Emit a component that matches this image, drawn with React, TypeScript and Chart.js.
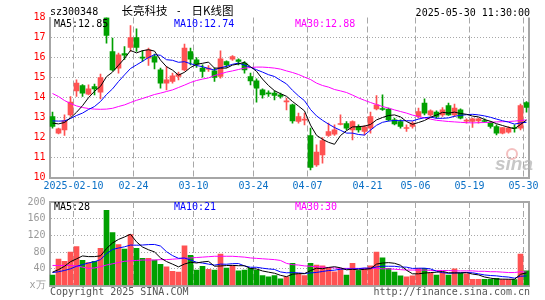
import React, { useEffect, useRef } from 'react';
import { Chart, registerables } from 'chart.js';

Chart.register(...registerables);

const dates = [
  '01-27', '02-05', '02-06', '02-07',
  '02-10', '02-11', '02-12', '02-13', '02-14',
  '02-17', '02-18', '02-19', '02-20', '02-21',
  '02-24', '02-25', '02-26', '02-27', '02-28',
  '03-03', '03-04', '03-05', '03-06', '03-07',
  '03-10', '03-11', '03-12', '03-13', '03-14',
  '03-17', '03-18', '03-19', '03-20', '03-21',
  '03-24', '03-25', '03-26', '03-27', '03-28',
  '03-31', '04-01', '04-02', '04-03',
  '04-07', '04-08', '04-09', '04-10', '04-11',
  '04-14', '04-15', '04-16', '04-17', '04-18',
  '04-21', '04-22', '04-23', '04-24', '04-25',
  '04-28', '04-29', '04-30',
  '05-06', '05-07', '05-08', '05-09',
  '05-12', '05-13', '05-14', '05-15', '05-16',
  '05-19', '05-20', '05-21', '05-22', '05-23',
  '05-26', '05-27', '05-28', '05-29', '05-30',
];

const opens = [13.05, 12.22, 12.38, 13.13, 14.33, 14.60, 14.17, 14.55, 14.27, 18.00,
  16.30, 15.47, 16.20, 16.50, 17.00, 16.00, 15.97, 16.05, 15.38, 14.72,
  14.80, 15.05, 15.38, 16.30, 15.88, 15.47, 15.42, 15.33, 15.05, 15.80,
  15.92, 15.88, 15.72, 15.05, 14.83, 14.38, 14.22, 14.22, 14.13, 13.78,
  13.63, 12.80, 12.87, 12.10, 10.63, 11.13, 12.10, 12.17, 12.65, 12.70,
  12.38, 12.53, 12.30, 12.47, 13.43, 13.43, 13.42, 12.88, 12.80, 12.45,
  12.55, 13.05, 13.72, 13.13, 13.27, 13.13, 13.60, 13.13, 13.38, 12.82,
  12.80, 12.83, 12.85, 12.75, 12.55, 12.22, 12.27, 12.50, 12.47, 13.75];
const highs = [13.27, 12.47, 13.13, 14.05, 14.88, 14.65, 14.63, 14.67, 15.17, 18.00,
  16.97, 16.22, 16.55, 17.60, 17.43, 16.35, 16.47, 16.17, 15.47, 15.55,
  15.22, 15.27, 16.67, 16.47, 16.00, 15.63, 15.60, 15.47, 16.33, 15.83,
  16.10, 15.93, 15.80, 15.22, 14.93, 14.43, 14.33, 14.33, 14.22, 13.97,
  13.67, 13.22, 13.22, 12.47, 11.63, 12.00, 12.72, 12.63, 13.13, 12.80,
  12.83, 12.63, 12.60, 13.27, 14.10, 14.13, 13.47, 12.97, 12.88, 12.63,
  12.80, 13.47, 13.93, 13.38, 13.33, 13.50, 13.72, 13.67, 13.43, 12.93,
  12.97, 12.97, 12.93, 12.80, 12.63, 12.50, 12.55, 12.63, 13.67, 13.80];
const lows = [12.47, 12.18, 12.10, 13.05, 14.05, 14.05, 14.13, 14.13, 13.93, 16.72,
  15.33, 15.22, 15.90, 16.30, 16.30, 15.80, 15.60, 15.43, 14.47, 14.38,
  14.72, 14.88, 15.33, 15.63, 15.50, 15.02, 15.30, 14.80, 14.97, 15.50,
  15.85, 15.63, 15.22, 14.63, 13.77, 13.97, 14.05, 13.88, 13.97, 13.38,
  12.72, 12.72, 12.63, 10.38, 10.55, 10.72, 12.05, 12.10, 12.63, 12.38,
  11.88, 12.27, 12.13, 12.22, 13.38, 13.35, 12.83, 12.63, 12.47, 12.30,
  12.47, 12.97, 13.13, 13.08, 12.97, 13.05, 13.10, 13.05, 12.93, 12.72,
  12.50, 12.72, 12.77, 12.47, 12.13, 12.18, 12.22, 12.27, 12.38, 13.27];
const closes = [12.55, 12.43, 12.83, 13.77, 14.72, 14.22, 14.43, 14.43, 15.00, 17.10,
  15.38, 16.13, 16.12, 17.00, 16.50, 15.97, 16.38, 15.77, 14.72, 14.88,
  15.08, 15.17, 16.47, 15.92, 15.67, 15.30, 15.47, 15.00, 15.93, 15.63,
  16.05, 15.80, 15.38, 14.83, 14.47, 14.13, 14.18, 14.10, 14.05, 13.82,
  12.83, 13.05, 12.90, 10.50, 11.27, 11.85, 12.30, 12.38, 12.68, 12.47,
  12.80, 12.38, 12.53, 13.05, 13.63, 13.40, 12.88, 12.68, 12.55, 12.48,
  12.72, 13.30, 13.22, 13.33, 13.05, 13.38, 13.13, 13.47, 12.97, 12.85,
  12.93, 12.93, 12.80, 12.55, 12.22, 12.50, 12.47, 12.45, 13.60, 13.50];

const ma5 = [12.72, 12.68, 12.75, 12.98, 13.26, 13.59, 13.99, 14.31, 14.56, 15.04,
  15.27, 15.61, 15.95, 16.35, 16.23, 16.34, 16.39, 16.32, 15.87, 15.54,
  15.37, 15.12, 15.26, 15.50, 15.66, 15.71, 15.77, 15.47, 15.47, 15.47,
  15.62, 15.68, 15.76, 15.54, 15.31, 14.92, 14.60, 14.34, 14.19, 14.06,
  13.80, 13.57, 13.33, 12.62, 12.11, 11.91, 11.76, 11.66, 12.10, 12.34,
  12.53, 12.54, 12.57, 12.65, 12.88, 13.00, 13.10, 13.13, 13.03, 12.80,
  12.66, 12.75, 12.85, 13.01, 13.12, 13.26, 13.22, 13.27, 13.20, 13.16,
  13.07, 13.03, 12.90, 12.81, 12.69, 12.60, 12.51, 12.44, 12.65, 12.87];
const ma10 = [12.83, 12.82, 12.83, 12.95, 13.10, 13.22, 13.40, 13.55, 13.80, 14.15,
  14.43, 14.80, 15.13, 15.45, 15.63, 15.81, 16.00, 16.14, 16.11, 15.89,
  15.86, 15.76, 15.79, 15.69, 15.60, 15.54, 15.45, 15.37, 15.49, 15.56,
  15.66, 15.72, 15.62, 15.51, 15.39, 15.27, 15.14, 15.05, 14.86, 14.68,
  14.36, 14.08, 13.84, 13.40, 13.08, 12.86, 12.67, 12.50, 12.36, 12.22,
  12.22, 12.15, 12.12, 12.37, 12.61, 12.76, 12.82, 12.85, 12.84, 12.84,
  12.83, 12.92, 12.99, 13.02, 12.96, 12.96, 12.98, 13.06, 13.11, 13.14,
  13.16, 13.13, 13.08, 13.01, 12.92, 12.84, 12.77, 12.67, 12.73, 12.76];
const ma30 = [14.20, 14.05, 13.85, 13.70, 13.58, 13.50, 13.45, 13.42, 13.41, 13.42,
  13.46, 13.55, 13.63, 13.75, 13.86, 13.95, 14.05, 14.15, 14.22, 14.30,
  14.38, 14.50, 14.62, 14.75, 14.85, 14.92, 14.98, 15.10, 15.18, 15.27,
  15.33, 15.40, 15.47, 15.50, 15.52, 15.52, 15.50, 15.47, 15.42, 15.33,
  15.25, 15.15, 15.02, 14.90, 14.72, 14.60, 14.52, 14.40, 14.33, 14.25,
  14.12, 13.98, 13.86, 13.75, 13.65, 13.55, 13.47, 13.38, 13.30, 13.22,
  13.12, 13.05, 12.98, 12.92, 12.86, 12.83, 12.80, 12.78, 12.76, 12.74,
  12.73, 12.74, 12.75, 12.76, 12.78, 12.79, 12.80, 12.82, 12.85, 12.88];

const volumes = [25, 63, 58, 80, 93, 60, 55, 58, 89, 180,
  127, 98, 87, 122, 89, 65, 65, 61, 51, 45,
  34, 32, 95, 72, 37, 46, 39, 37, 75, 42,
  48, 35, 37, 41, 37, 24, 21, 24, 16, 21,
  53, 28, 24, 53, 49, 47, 43, 33, 40, 25,
  53, 36, 40, 47, 80, 66, 41, 32, 23, 21,
  23, 41, 41, 29, 25, 32, 25, 40, 29, 28,
  15, 15, 15, 15, 17, 14, 14, 14, 75, 35];
const volMa5 = [32, 38, 46, 57, 63.8, 70.8, 69.2, 69.2, 71, 88.4,
  101.8, 110.4, 116.2, 122.8, 104.6, 92.2, 85.6, 80.4, 66.2, 57.4,
  51.2, 44.6, 51.4, 55.6, 54, 56.4, 57.8, 46.2, 46.8, 47.8,
  48.2, 47.4, 47.4, 40.6, 39.6, 34.8, 32, 29.4, 24.4, 21.2,
  27, 28.4, 28.4, 35.8, 41.4, 40.2, 43.2, 45, 42.4, 37.6,
  38.8, 37.4, 38.8, 40.2, 51.2, 53.8, 54.8, 53.2, 48.4, 36.6,
  28, 28, 29.8, 31, 31.8, 33.6, 30.4, 30.2, 30.2, 30.8,
  27.4, 25.4, 20.4, 17.6, 15.4, 15.2, 15, 14.8, 26.8, 30.4];
const volMa10 = [31, 33, 36, 40, 46, 50, 54, 57, 62, 76.1,
  86.3, 89.8, 92.7, 96.9, 96.5, 97, 98, 98.3, 94.5, 81,
  71.7, 65.1, 65.9, 60.9, 55.7, 53.8, 51.2, 48.8, 51.2, 50.9,
  52.3, 52.6, 46.8, 43.7, 43.7, 41.5, 39.7, 38.4, 32.5, 30.4,
  30.9, 30.2, 28.9, 30.1, 31.3, 33.6, 35.8, 36.7, 39.1, 39.5,
  39.5, 40.3, 41.9, 41.3, 44.4, 46.3, 46.1, 46, 44.3, 43.9,
  40.9, 41.4, 41.5, 39.7, 34.2, 30.8, 29.2, 30, 30.6, 31.3,
  30.5, 27.9, 25.3, 23.9, 23.1, 21.3, 20.2, 17.6, 22.2, 22.9];
const volMa30 = [48, 48, 48, 48, 47, 44, 41, 42, 45, 49,
  52, 55, 58, 59, 60, 61, 61, 61, 62, 62,
  63, 64, 65, 66, 67, 68, 69, 70, 70, 70,
  70, 69, 68, 66, 65, 64, 63, 62, 60, 53,
  50, 49, 47, 46, 45, 44, 43, 42, 41, 41,
  41, 41, 41, 41, 41, 40, 40, 39, 38, 37,
  37, 37, 37, 36, 36, 36, 36, 35, 35, 35,
  35, 34, 34, 33, 33, 32, 31, 31, 33, 32];

const tickDates = ['02-10', '02-24', '03-10', '03-24', '04-07', '04-21', '05-06', '05-19', '05-30'];
const tickTexts = ['2025-02-10', '02-24', '03-10', '03-24', '04-07', '04-21', '05-06', '05-19', '05-30'];
const priceMaLabels = ['MA5:12.85', 'MA10:12.74', 'MA30:12.88'];
const volMaLabels = ['MA5:28', 'MA10:21', 'MA30:30'];

const RED = '#ff5252';
const GREEN = '#00a000';
const GRID = '#a8a8a8';
const AXIS = '#a6a6a6';
const MONO = '"DejaVu Sans Mono", monospace';
const MA_COLORS = ['#000000', '#0000ff', '#ff00ff'];
const MA_X = [54, 174, 295];

const candleColors = closes.map((c, i) => (c >= opens[i] ? RED : GREEN));

function xScale(showLabels: boolean): any {
  return {
    type: 'category',
    offset: true,
    grid: {
      offset: true,
      drawTicks: false,
      lineWidth: 1,
      color: (ctx: any) => (tickDates.includes(dates[ctx.index]) ? GRID : 'rgba(0,0,0,0)'),
    },
    border: { display: true, color: AXIS, width: 2, dash: [6, 3] },
    ticks: {
      display: showLabels,
      autoSkip: false,
      maxRotation: 0,
      minRotation: 0,
      padding: 3,
      labelOffset: -3,
      color: '#0a70c6',
      font: { family: MONO, size: 10 },
      callback: (_v: any, i: number) => {
        const k = tickDates.indexOf(dates[i]);
        return k >= 0 ? tickTexts[k] : '';
      },
    },
    afterFit: (s: any) => {
      s.height = showLabels ? 14.5 : 0;
    },
  };
}

function lineDs(data: number[], color: string) {
  return {
    type: 'line' as const,
    data,
    borderColor: color,
    borderWidth: 1,
    pointRadius: 0,
    fill: false,
    tension: 0,
    order: 0,
  };
}

const frameBorders = (withTop: boolean) => ({
  id: 'frameBorders',
  beforeDatasetsDraw(chart: any) {
    const { ctx, chartArea } = chart;
    ctx.save();
    ctx.strokeStyle = AXIS;
    ctx.lineWidth = 2;
    ctx.beginPath();
    ctx.moveTo(chartArea.right - 0.5, chartArea.top);
    ctx.lineTo(chartArea.right - 0.5, chartArea.bottom);
    if (withTop) {
      ctx.moveTo(chartArea.left, chartArea.top);
      ctx.lineTo(chartArea.right + 0.5, chartArea.top);
    }
    ctx.stroke();
    ctx.restore();
  },
});

const watermark = {
  id: 'watermark',
  beforeDatasetsDraw(chart: any) {
    const ctx = chart.ctx;
    ctx.save();
    ctx.strokeStyle = 'rgba(235,140,140,0.55)';
    ctx.lineWidth = 2;
    ctx.beginPath();
    ctx.arc(512, 154, 5, 0, Math.PI * 2);
    ctx.stroke();
    ctx.fillStyle = 'rgba(180,180,180,0.75)';
    ctx.font = 'italic bold 19px "Liberation Sans", sans-serif';
    ctx.textBaseline = 'alphabetic';
    ctx.textAlign = 'left';
    ctx.fillText('sina', 495, 170);
    ctx.restore();
  },
};

const priceTexts = {
  id: 'priceTexts',
  afterDraw(chart: any) {
    const ctx = chart.ctx;
    ctx.save();
    ctx.textBaseline = 'alphabetic';
    ctx.fillStyle = '#000';
    ctx.font = `10px ${MONO}`;
    ctx.textAlign = 'left';
    ctx.fillText('sz300348', 50, 15);
    ctx.textAlign = 'right';
    ctx.fillText('2025-05-30 11:30:00', 530, 15.5);
    ctx.textAlign = 'center';
    ctx.fillText('-', 178.7, 14);
    ctx.textAlign = 'left';
    ctx.font = '11.5px "Noto Sans CJK SC", sans-serif';
    ctx.fillText('长亮科技', 121.5, 14.5);
    ctx.fillText('日K线图', 191.5, 14.5);
    ctx.font = `10px ${MONO}`;
    priceMaLabels.forEach((t, i) => {
      ctx.fillStyle = MA_COLORS[i];
      ctx.fillText(t, MA_X[i], 27);
    });
    ctx.restore();
  },
};

const volTexts = {
  id: 'volTexts',
  afterDraw(chart: any) {
    const ctx = chart.ctx;
    ctx.save();
    ctx.textBaseline = 'alphabetic';
    ctx.font = `10px ${MONO}`;
    ctx.textAlign = 'left';
    volMaLabels.forEach((t, i) => {
      ctx.fillStyle = MA_COLORS[i];
      ctx.fillText(t, MA_X[i], 18);
    });
    ctx.fillStyle = '#555';
    ctx.fillText('Copyright 2025 SINA.COM', 50, 103);
    ctx.textAlign = 'right';
    ctx.fillText('http://finance.sina.com.cn', 530, 103);
    ctx.restore();
  },
};

export default function App() {
  const priceRef = useRef<HTMLCanvasElement>(null);
  const volRef = useRef<HTMLCanvasElement>(null);

  useEffect(() => {
    const common: any = {
      responsive: false,
      maintainAspectRatio: false,
      animation: false,
      events: [],
      plugins: { legend: { display: false }, tooltip: { enabled: false } },
    };

    const priceChart = new Chart(priceRef.current as HTMLCanvasElement, {
      type: 'bar',
      data: {
        labels: dates,
        datasets: [
          {
            type: 'bar',
            data: lows.map((l, i) => [l, highs[i]]),
            backgroundColor: candleColors,
            barThickness: 1,
            grouped: false,
            order: 2,
          } as any,
          {
            type: 'bar',
            data: opens.map((o, i) => [o, closes[i]]),
            backgroundColor: candleColors,
            barThickness: 5,
            minBarLength: 1,
            grouped: false,
            order: 1,
          } as any,
          lineDs(ma5, MA_COLORS[0]),
          lineDs(ma10, MA_COLORS[1]),
          lineDs(ma30, MA_COLORS[2]),
        ],
      },
      options: {
        ...common,
        layout: { autoPadding: false, padding: { left: 0, right: 15.5, top: 17.5, bottom: 0 } },
        scales: {
          x: xScale(true),
          y: {
            type: 'linear',
            min: 10,
            max: 18,
            ticks: {
              stepSize: 1,
              color: '#ff0000',
              padding: 4,
              font: { family: MONO, size: 10 },
            },
            grid: {
              drawTicks: false,
              color: (ctx: any) => (ctx.tick && ctx.tick.value > 10 && ctx.tick.value < 18 ? GRID : 'rgba(0,0,0,0)'),
            },
            border: { display: true, color: AXIS, width: 2, dash: [1, 2] },
            afterFit: (s: any) => {
              s.width = 49.5;
            },
          },
        },
      },
      plugins: [frameBorders(false), watermark, priceTexts],
    } as any);

    const volChart = new Chart(volRef.current as HTMLCanvasElement, {
      type: 'bar',
      data: {
        labels: dates,
        datasets: [
          {
            type: 'bar',
            data: volumes,
            backgroundColor: candleColors,
            barThickness: 5,
            grouped: false,
            order: 1,
          } as any,
          lineDs(volMa5, MA_COLORS[0]),
          lineDs(volMa10, MA_COLORS[1]),
          lineDs(volMa30, MA_COLORS[2]),
        ],
      },
      options: {
        ...common,
        layout: { autoPadding: false, padding: { left: 0, right: 15.5, top: 9, bottom: 14.5 } },
        scales: {
          x: xScale(false),
          y: {
            type: 'linear',
            min: 0,
            max: 200,
            ticks: {
              stepSize: 40,
              color: '#9a9a9a',
              padding: 4,
              font: { family: MONO, size: 10 },
              callback: (v: any) => (v === 0 ? 'x万' : String(v)),
            },
            grid: {
              drawTicks: false,
              color: (ctx: any) => (ctx.tick && ctx.tick.value > 0 && ctx.tick.value < 200 ? GRID : 'rgba(0,0,0,0)'),
            },
            border: { display: true, color: AXIS, width: 2, dash: [1, 2] },
            afterFit: (s: any) => {
              s.width = 49.5;
            },
          },
        },
      },
      plugins: [frameBorders(true), volTexts],
    } as any);

    return () => {
      priceChart.destroy();
      volChart.destroy();
    };
  }, []);

  return (
    <div style={{ position: 'fixed', left: 0, top: 0, width: 545, height: 300, background: '#fff' }}>
      <canvas
        ref={priceRef}
        width={545}
        height={192}
        style={{ position: 'absolute', left: 0, top: 0, width: 545, height: 192 }}
      />
      <canvas
        ref={volRef}
        width={545}
        height={108}
        style={{ position: 'absolute', left: 0, top: 192, width: 545, height: 108 }}
      />
    </div>
  );
}
